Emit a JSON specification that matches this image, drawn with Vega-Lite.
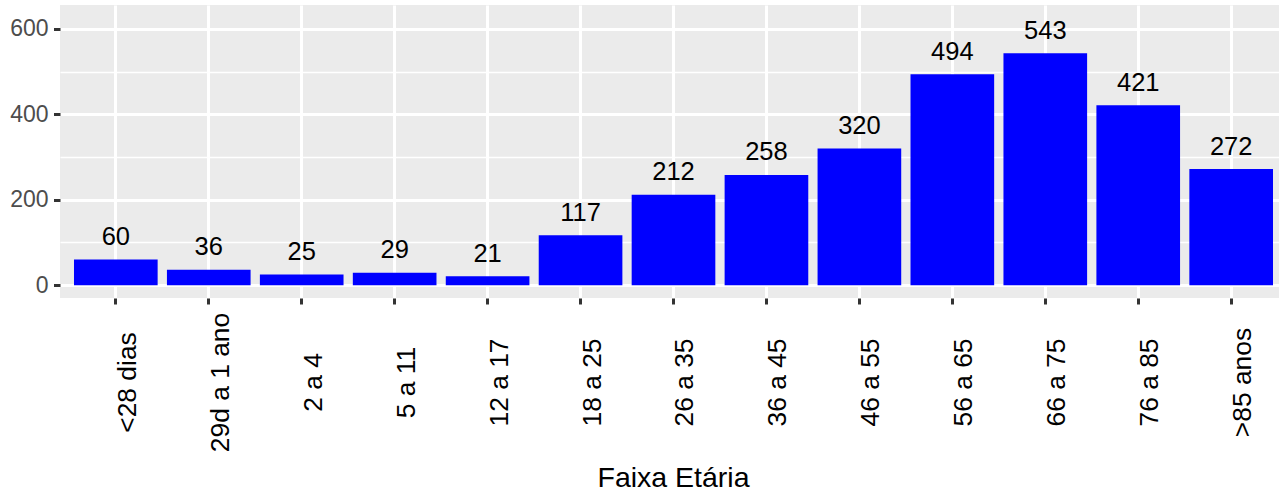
{
  "$schema": "https://vega.github.io/schema/vega-lite/v6.json",
  "width": 1219,
  "height": 293,
  "autosize": "none",
  "padding": {"left": 60, "top": 5, "right": 0, "bottom": 195},
  "background": "white",
  "config": {
    "view": {"fill": "#EBEBEB", "stroke": null},
    "font": "Liberation Sans"
  },
  "data": {
    "values": [
      {"faixa": "<28 dias", "n": 60},
      {"faixa": "29d a 1 ano", "n": 36},
      {"faixa": "2 a 4", "n": 25},
      {"faixa": "5 a 11", "n": 29},
      {"faixa": "12 a 17", "n": 21},
      {"faixa": "18 a 25", "n": 117},
      {"faixa": "26 a 35", "n": 212},
      {"faixa": "36 a 45", "n": 258},
      {"faixa": "46 a 55", "n": 320},
      {"faixa": "56 a 65", "n": 494},
      {"faixa": "66 a 75", "n": 543},
      {"faixa": "76 a 85", "n": 421},
      {"faixa": ">85 anos", "n": 272}
    ]
  },
  "encoding": {
    "x": {
      "field": "faixa",
      "type": "nominal",
      "sort": null,
      "scale": {"paddingInner": 0.1, "paddingOuter": 0.1075, "align": 0.7},
      "axis": {
        "title": "Faixa Etária",
        "titleFontSize": 28.5,
        "titleFontWeight": "normal",
        "titleColor": "black",
        "titleX": 613,
        "titleY": 188,
        "titleAnchor": null,
        "titleAlign": "center",
        "titleBaseline": "alphabetic",
        "bandPosition": 0.5,
        "domain": false,
        "grid": true,
        "gridColor": "white",
        "gridWidth": 3,
        "ticks": true,
        "tickColor": "#333333",
        "tickWidth": 3,
        "tickSize": 6,
        "labelAngle": -90,
        "labelAlign": "center",
        "labelBaseline": "top",
        "labelPadding": 78,
        "labelOffset": -1,
        "labelFontSize": 26.4,
        "labelColor": "black",
        "labelOverlap": false,
        "labelLimit": 0
      }
    },
    "y": {
      "field": "n",
      "type": "quantitative",
      "scale": {"domain": [-30, 656], "nice": false, "zero": false},
      "axis": {
        "title": null,
        "values": [0, 100, 200, 300, 400, 500, 600],
        "labelExpr": "datum.value % 200 === 0 ? datum.label : ''",
        "domain": false,
        "grid": true,
        "gridColor": "white",
        "gridWidth": {"condition": {"test": "datum.value % 200 === 0", "value": 3}, "value": 1.5},
        "tickColor": "#333333",
        "tickWidth": 3,
        "tickSize": 6.5,
        "tickOpacity": {"condition": {"test": "datum.value % 200 === 0", "value": 1}, "value": 0},
        "labelPadding": 5.5,
        "labelFontSize": 23,
        "labelColor": "#4D4D4D",
        "labelOverlap": false
      }
    }
  },
  "layer": [
    {"mark": {"type": "bar", "color": "#0000FF"}},
    {
      "mark": {"type": "text", "fontSize": 25.5, "color": "black", "baseline": "alphabetic", "align": "center", "dy": -14.5},
      "encoding": {"text": {"field": "n", "type": "quantitative"}}
    }
  ]
}
